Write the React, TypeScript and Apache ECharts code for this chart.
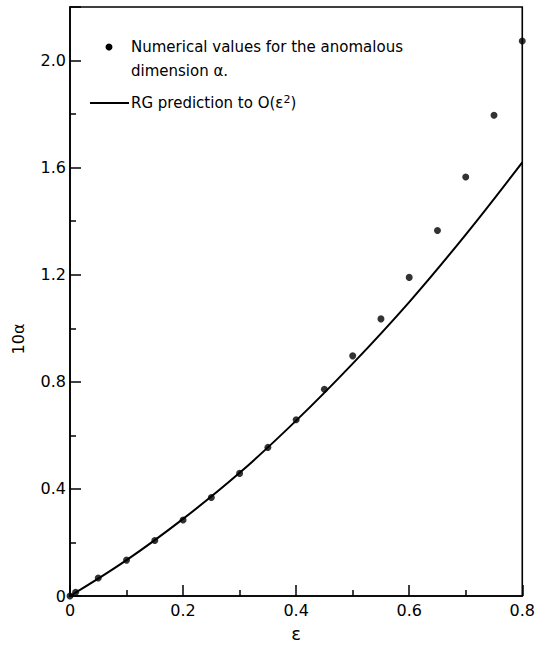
import React, { useEffect, useRef } from "react";
import * as echarts from "echarts";

const epsPoints = [0, 0.01, 0.05, 0.1, 0.15, 0.2, 0.25, 0.3, 0.35, 0.4, 0.45, 0.5, 0.55, 0.6, 0.65, 0.7, 0.75, 0.8];
const alphaPoints = [0, 0.014, 0.067, 0.134, 0.207, 0.284, 0.368, 0.458, 0.555, 0.658, 0.772, 0.897, 1.035, 1.19, 1.365, 1.565, 1.796, 2.073];

const epsLine = [0, 0.1, 0.2, 0.3, 0.4, 0.5, 0.6, 0.7, 0.8];
const alphaLine = [0, 0.134, 0.288, 0.46, 0.655, 0.868, 1.098, 1.35, 1.62];

const xTicks = [0, 0.2, 0.4, 0.6, 0.8];
const yTicks = [0, 0.4, 0.8, 1.2, 1.6, 2.0];

const FONT = "DejaVu Sans";

export default function App() {
  const ref = useRef<HTMLDivElement>(null);
  useEffect(() => {
    if (!ref.current) return;
    const chart = echarts.init(ref.current, null, { renderer: "svg" });
    const fmt = (v: number) => (Math.abs(v) < 1e-9 ? "0" : v.toFixed(1));
    chart.setOption({
      animation: false,
      backgroundColor: "#fff",
      grid: {
        left: 70,
        right: 14,
        top: 7,
        bottom: 42,
        show: true,
        borderColor: "#000",
        borderWidth: 1.6,
      },
      xAxis: {
        type: "value",
        min: 0,
        max: 0.8,
        interval: 0.2,
        name: "ε",
        nameLocation: "middle",
        nameGap: 28,
        nameTextStyle: { color: "#000", fontSize: 18, fontFamily: FONT },
        axisLine: { show: true, lineStyle: { color: "#000", width: 1.6 } },
        axisTick: { show: true, inside: true, length: 11, lineStyle: { color: "#000", width: 1.5 } },
        minorTick: { show: true, splitNumber: 2, length: 6, lineStyle: { color: "#000", width: 1.5 } },
        splitLine: { show: false },
        axisLabel: {
          color: "#000",
          fontSize: 16,
          fontFamily: FONT,
          margin: 6,
          formatter: (v: number) => (xTicks.some((t) => Math.abs(t - v) < 1e-9) ? fmt(v) : ""),
        },
      },
      yAxis: {
        type: "value",
        min: 0,
        max: 2.2,
        interval: 0.4,
        axisLine: { show: true, lineStyle: { color: "#000", width: 1.6 } },
        axisTick: { show: true, inside: true, length: 11, lineStyle: { color: "#000", width: 1.5 } },
        minorTick: { show: true, splitNumber: 2, length: 6, lineStyle: { color: "#000", width: 1.5 } },
        splitLine: { show: false },
        axisLabel: {
          color: "#000",
          fontSize: 16,
          fontFamily: FONT,
          margin: 4,
          formatter: (v: number) => (yTicks.some((t) => Math.abs(t - v) < 1e-9) ? fmt(v) : ""),
        },
      },
      series: [
        {
          type: "line",
          data: epsLine.map((x, i) => [x, alphaLine[i]]),
          smooth: 0.4,
          showSymbol: false,
          lineStyle: { color: "#000", width: 2 },
          clip: false,
          z: 2,
        },
        {
          type: "scatter",
          data: epsPoints.map((x, i) => [x, alphaPoints[i]]),
          symbol: "circle",
          symbolSize: 7,
          itemStyle: { color: "#000" },
          clip: false,
          z: 3,
        },
      ],
      graphic: [
        { type: "circle", shape: { cx: 109, cy: 47, r: 3.5 }, style: { fill: "#000" } },
        {
          type: "text",
          x: 131,
          y: 47,
          style: { text: "Numerical values for the anomalous", fill: "#000", font: `15px '${FONT}'`, verticalAlign: "middle" },
        },
        {
          type: "text",
          x: 131,
          y: 71,
          style: { text: "dimension α.", fill: "#000", font: `15px '${FONT}'`, verticalAlign: "middle" },
        },
        { type: "line", shape: { x1: 90, y1: 103, x2: 129, y2: 103 }, style: { stroke: "#000", lineWidth: 2 } },
        {
          type: "text",
          x: 131,
          y: 103,
          style: {
            text: "RG prediction to O(ε{sup|2})",
            fill: "#000",
            font: `15px '${FONT}'`,
            verticalAlign: "middle",
            rich: {
              sup: { fontSize: 11, fontFamily: FONT, fill: "#000", verticalAlign: "top", padding: [0, 0, 8, 0] },
            },
          },
        },
        {
          type: "text",
          x: 18,
          y: 339,
          rotation: Math.PI / 2,
          style: { text: "10α", fill: "#000", font: `16px '${FONT}'`, align: "center", verticalAlign: "middle" },
        },
      ],
    });
    return () => chart.dispose();
  }, []);
  return <div ref={ref} style={{ position: "fixed", left: 0, top: 0, width: 538, height: 647 }} />;
}
